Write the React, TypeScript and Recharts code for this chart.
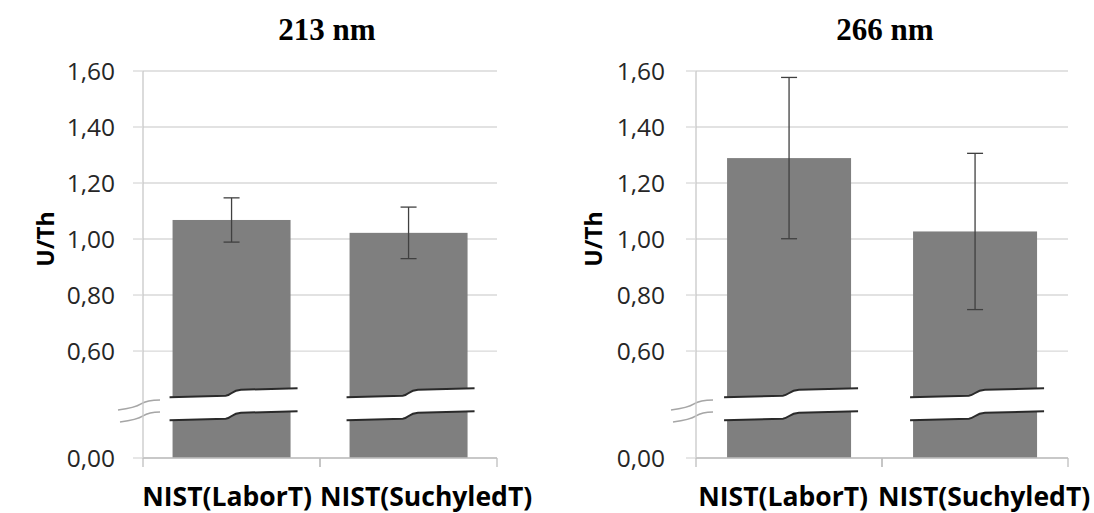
import React from "react";
import {
  BarChart,
  Bar,
  XAxis,
  YAxis,
  CartesianGrid,
  ErrorBar,
  ReferenceLine,
} from "recharts";

// categories and values
const categories = ["NIST(LaborT)", "NIST(SuchyledT)"];
const uth213 = [1.068, 1.022];
const err213 = [0.079, 0.092];
const uth266 = [1.289, 1.027];
const err266 = [0.288, 0.279];

// broken axis: the "0,00" line sits at FLOOR on the plotted scale
const FLOOR = 0.218;
const yTicks = [FLOOR, 0.6, 0.8, 1.0, 1.2, 1.4, 1.6];
const BAR_BREAK = 0.41;
const AXIS_BREAK = 0.386;

const fmt = (v: number) => (v === FLOOR ? "0,00" : v.toFixed(2).replace(".", ","));

const BrokenBar = (props: any) => {
  const { x, y, width, height, fill, payload } = props;
  const base = y + height;
  const ppu = height / (payload.value - FLOOR);
  const c = base - (BAR_BREAK - FLOOR) * ppu;
  const edge = (d: number) =>
    `M${x - 3},${c - 7 + d} L${x + 0.45 * width},${c - 8.5 + d} C${x + 0.5 * width},${c - 9 + d} ${
      x + 0.5 * width
    },${c - 14 + d} ${x + 0.58 * width},${c - 14.5 + d} L${x + width + 7},${c - 16 + d}`;
  const band =
    `M${x - 3},${c - 7} L${x + 0.45 * width},${c - 8.5} C${x + 0.5 * width},${c - 9} ${x + 0.5 * width},${
      c - 14
    } ${x + 0.58 * width},${c - 14.5} L${x + width + 7},${c - 16} L${x + width + 7},${c + 7} L${
      x + 0.58 * width
    },${c + 8.5} C${x + 0.5 * width},${c + 9} ${x + 0.5 * width},${c + 14} ${x + 0.45 * width},${c + 14.5} L${
      x - 3
    },${c + 16} Z`;
  return (
    <g>
      <rect x={x} y={y} width={width} height={height} fill={fill} />
      <path d={band} fill="#fff" />
      <path d={edge(0)} fill="none" stroke="#2a2a2a" strokeWidth={2} />
      <path d={edge(23)} fill="none" stroke="#2a2a2a" strokeWidth={2} />
    </g>
  );
};

const AxisBreak = (props: any) => {
  const x = props.x1;
  const c = props.y1;
  return (
    <g>
      <path
        d={`M${x - 25},${c - 1} L${x + 17},${c - 11} L${x + 17},${c + 1} L${x - 23},${c + 11} Z`}
        fill="#fff"
      />
      <path
        d={`M${x - 25},${c - 1} Q${x - 8},${c - 3} ${x - 2},${c - 7} T${x + 17},${c - 11}`}
        fill="none"
        stroke="#a6a6a6"
        strokeWidth={1.5}
      />
      <path
        d={`M${x - 23},${c + 11} Q${x - 6},${c + 9} ${x},${c + 5} T${x + 17},${c + 1}`}
        fill="none"
        stroke="#a6a6a6"
        strokeWidth={1.5}
      />
    </g>
  );
};

const X_TICK_SIZE = 9;
const X_TICK_MARGIN = 20;

const CategoryTick = (props: any) => {
  const { x, y, payload, index, labelGap } = props;
  const axisY = y - X_TICK_SIZE - X_TICK_MARGIN;
  const off = payload.offset || 0;
  // Excel-style: labels run on from the category boundary between the two bars
  const first = index === 0;
  const tx = first ? x + off - labelGap[0] : x - off - labelGap[1];
  return (
    <g>
      <line x1={x - off} y1={axisY} x2={x - off} y2={axisY + X_TICK_SIZE} stroke="#bfbfbf" strokeWidth={1.3} />
      <line x1={x + off} y1={axisY} x2={x + off} y2={axisY + X_TICK_SIZE} stroke="#bfbfbf" strokeWidth={1.3} />
      <text
        x={tx}
        y={y}
        dy="0.71em"
        textAnchor={first ? "end" : "start"}
        fontFamily="Open Sans"
        fontWeight="bold"
        fontSize={26.5}
        fill="#000"
      >
        {payload.value}
      </text>
    </g>
  );
};

interface PanelProps {
  title: string;
  values: number[];
  errors: number[];
  left: number;
  yAxisWidth: number;
  rightMargin: number;
  yTickMargin: number;
  labelX: number;
  titleX: number;
  labelGap: number[];
}

const W = 547;
const H = 513;

const Panel: React.FC<PanelProps> = ({
  title,
  values,
  errors,
  left,
  yAxisWidth,
  rightMargin,
  yTickMargin,
  labelX,
  titleX,
  labelGap,
}) => {
  const data = categories.map((name, i) => ({ name, value: values[i], err: errors[i] }));
  return (
    <div style={{ position: "absolute", left, top: 0, width: W, height: H }}>
      <div
        style={{
          position: "absolute",
          left: titleX - 100,
          top: 14,
          width: 200,
          textAlign: "center",
          fontFamily: "Liberation Serif",
          fontWeight: "bold",
          fontSize: 31,
          lineHeight: "31px",
          color: "#000",
        }}
      >
        {title}
      </div>
      <BarChart
        width={W}
        height={H}
        data={data}
        margin={{ top: 71, right: rightMargin, left: 0, bottom: 0 }}
        barCategoryGap="16.7%"
        style={{ overflow: "visible" }}
      >
        <CartesianGrid vertical={false} stroke="#d9d9d9" strokeWidth={1.3} />
        <XAxis
          dataKey="name"
          height={55}
          tickSize={X_TICK_SIZE}
          tickMargin={X_TICK_MARGIN}
          tickLine={false}
          axisLine={{ stroke: "#bfbfbf", strokeWidth: 1.3 }}
          tick={<CategoryTick labelGap={labelGap} />}
          interval={0}
        />
        <YAxis
          type="number"
          domain={[FLOOR, 1.6]}
          ticks={yTicks}
          allowDataOverflow
          width={yAxisWidth}
          tickSize={10}
          tickMargin={yTickMargin}
          tickFormatter={fmt}
          tick={{ fontFamily: "Open Sans", fontSize: 24.5, fill: "#262626" }}
          tickLine={{ stroke: "#d9d9d9", strokeWidth: 1.3 }}
          axisLine={{ stroke: "#c8c8c8", strokeWidth: 1.3 }}
          label={{
            content: (p: any) => {
              const vb = p.viewBox;
              const cx = vb.x + labelX;
              const cy = vb.y + vb.height / 2 - 25.5;
              return (
                <text
                  x={cx}
                  y={cy}
                  transform={`rotate(-90 ${cx} ${cy})`}
                  textAnchor="middle"
                  dominantBaseline="central"
                  fontFamily="Open Sans"
                  fontWeight="bold"
                  fontSize={23}
                  fill="#000"
                >
                  U/Th
                </text>
              );
            },
          }}
        />
        <Bar dataKey="value" fill="#7f7f7f" shape={BrokenBar} isAnimationActive={false}>
          <ErrorBar
            dataKey="err"
            width={8}
            stroke="#404040"
            strokeWidth={1.3}
            direction="y"
            isAnimationActive={false}
          />
        </Bar>
        <ReferenceLine y={AXIS_BREAK} shape={AxisBreak} />
      </BarChart>
    </div>
  );
};

export default function App() {
  return (
    <div
      style={{
        position: "fixed",
        left: 0,
        top: 0,
        width: 1094,
        height: 513,
        background: "#fff",
        overflow: "hidden",
      }}
    >
      <Panel
        title="213 nm"
        values={uth213}
        errors={err213}
        left={0}
        yAxisWidth={143}
        rightMargin={50}
        yTickMargin={18}
        labelX={45}
        titleX={327}
        labelGap={[8, 0]}
      />
      <Panel
        title="266 nm"
        values={uth266}
        errors={err266}
        left={547}
        yAxisWidth={149}
        rightMargin={26}
        yTickMargin={21}
        labelX={46}
        titleX={338}
        labelGap={[14, 4]}
      />
    </div>
  );
}
